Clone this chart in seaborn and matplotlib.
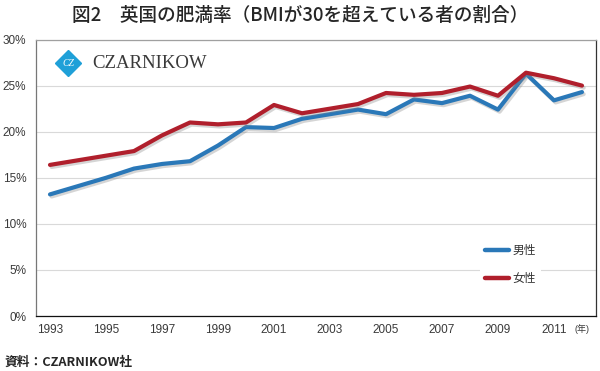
import seaborn as sns
import matplotlib.pyplot as plt
import matplotlib.patheffects as pe
import pandas as pd
import numpy as np

# データ
years = list(range(1993, 2013))
male = [13.2, 14.1, 15.0, 16.0, 16.5, 16.8, 18.5, 20.5, 20.4, 21.4, 21.9, 22.4,
        21.9, 23.5, 23.1, 23.9, 22.4, 26.3, 23.4, 24.3]
female = [16.4, 16.9, 17.4, 17.9, 19.6, 21.0, 20.8, 21.0, 22.9, 22.0, 22.5, 23.0,
          24.2, 24.0, 24.2, 24.9, 23.9, 26.4, 25.8, 25.0]
series_names = ['男性', '女性']
y_ticks = [0, 5, 10, 15, 20, 25, 30]
x_labels = [str(y) if (y - 1993) % 2 == 0 else '' for y in years[:-1]] + ['(年)']

title = '図2　英国の肥満率（BMIが30を超えている者の割合）'
source = '資料：CZARNIKOW社'

df = pd.DataFrame({
    'year': years * 2,
    'rate': male + female,
    'sex': [series_names[0]] * len(years) + [series_names[1]] * len(years),
})

sns.set_style('white')
plt.rcParams['font.family'] = ['Liberation Sans', 'Noto Sans CJK JP']

fig = plt.figure(figsize=(6, 3.71), dpi=100)
ax = fig.add_axes([0.06, 0.148, 0.9333, 0.7455])

palette = {'男性': '#2a78b8', '女性': '#b01f2c'}
sns.lineplot(data=df, x='year', y='rate', hue='sex', palette=palette,
             linewidth=3.0, ax=ax, legend=False)
for ln in ax.lines:
    ln.set_solid_joinstyle('round')
    ln.set_solid_capstyle('round')
    ln.set_path_effects([pe.SimpleLineShadow(offset=(1.2, -1.5), shadow_color='#888888', alpha=0.35),
                         pe.Normal()])

ax.set_xlim(1992.5, 2012.5)
ax.set_ylim(0, 30)
ax.set_yticks(y_ticks)
ax.set_yticklabels([f'{v}%' for v in y_ticks], fontsize=8.5, color='#3a3a3a')
ax.set_xticks(years)
ax.set_xticklabels(x_labels, fontsize=8.5, color='#3a3a3a')
ax.get_xticklabels()[-1].set_fontsize(6.5)
ax.set_xticks([y + 0.5 for y in years[:-1]], minor=True)
ax.tick_params(axis='x', which='major', length=0, pad=6)
ax.tick_params(axis='x', which='minor', length=4, width=0.8, color='#222222', direction='out')
ax.tick_params(axis='y', length=3, width=0.8, color='#666666', direction='out', pad=4)
ax.set_xlabel('')
ax.set_ylabel('')

ax.grid(axis='y', color='#d9d9d9', linewidth=0.8)
ax.set_axisbelow(True)

ax.spines['left'].set_color('#777777')
ax.spines['bottom'].set_color('#111111')
ax.spines['top'].set_color('#a0a0a0')
ax.spines['right'].set_color('#333333')
for s in ax.spines.values():
    s.set_linewidth(0.9)

# 凡例
handles = [plt.Line2D([], [], color=palette[n], linewidth=3.2) for n in series_names]
leg = ax.legend(handles, series_names, loc='center left', bbox_to_anchor=(0.782, 0.185),
                frameon=True, facecolor='white', edgecolor='none', framealpha=1,
                fontsize=8.5, handlelength=2.1, handletextpad=0.3, labelspacing=1.35)
for t in leg.get_texts():
    t.set_color('#333333')

# ロゴ
ax.plot([0.057], [0.915], marker='D', markersize=13, color='#1fa0d8',
        transform=ax.transAxes, clip_on=False)
ax.text(0.057, 0.913, 'CZ', transform=ax.transAxes, ha='center', va='center',
        fontsize=7, color='white', family='Liberation Serif', style='italic')
ax.text(0.1, 0.913, 'CZARNIKOW', transform=ax.transAxes, ha='left', va='center',
        fontsize=13.5, color='#3a3a3a', family='Liberation Serif')

fig.text(0.5, 0.958, title, ha='center', va='center', fontsize=13.4, weight='medium',
         family=['Noto Sans CJK JP', 'Liberation Sans'])
fig.text(0.008, 0.024, source, ha='left', va='center', fontsize=9.2, weight='bold',
         family=['Noto Sans CJK JP', 'Liberation Sans'])

fig.savefig('out.png', dpi=100)
